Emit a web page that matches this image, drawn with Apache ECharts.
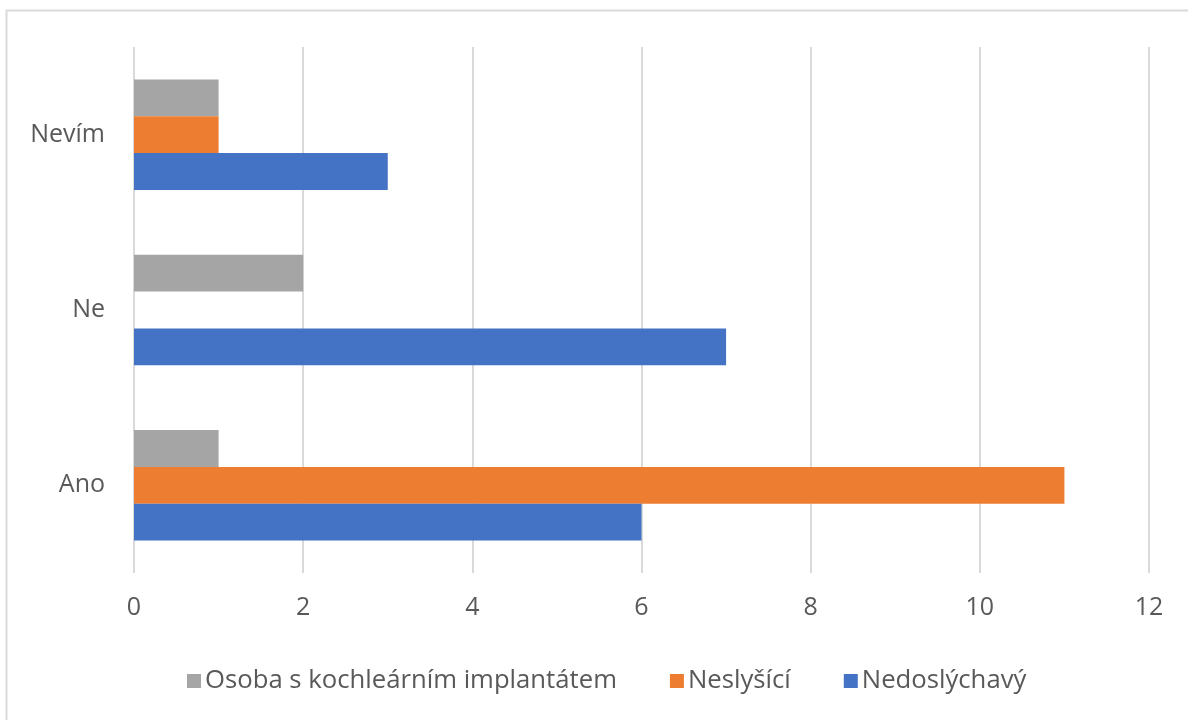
<!DOCTYPE html>
<html>
<head>
<meta charset="utf-8">
<script src="https://cdn.jsdelivr.net/npm/echarts@6/dist/echarts.min.js"></script>
<style>
html, body { margin: 0; padding: 0; background: #fff; }
#chart { width: 1188px; height: 720px; }
</style>
</head>
<body>
<div id="chart"></div>
<script>
var categories = ['Ano', 'Ne', 'Nevím'];
var nedoslychavy = [6, 7, 3];
var neslysici = [11, null, 1];
var implantat = [1, 2, 1];
var legendNames = ['Osoba s kochleárním implantátem', 'Neslyšící', 'Nedoslýchavý'];

var myChart = echarts.init(document.getElementById('chart'));

var font = 'Open Sans';

// ECharts puts the first series at the top of each category band,
// so the grey series goes first here
myChart.setOption({
	animation: false,
	graphic: [{
		type: 'rect',
		shape: { x: 6.5, y: 10.5, width: 1200, height: 720 },
		style: { fill: 'none', stroke: '#d9d9d9', lineWidth: 2 }
	}],
	grid: {
		left: 134,
		right: 39,
		top: 47,
		bottom: 147
	},
	legend: {
		data: legendNames,
		left: 182,
		top: 663,
		itemWidth: 14,
		itemHeight: 14,
		itemGap: 53,
		icon: 'rect',
		textStyle: {
			fontFamily: font,
			fontSize: 25.7,
			color: '#595959',
			padding: [0, 0, 0, -1]
		}
	},
	xAxis: {
		type: 'value',
		min: 0,
		max: 12,
		interval: 2,
		axisLine: { show: false },
		axisTick: { show: false },
		splitLine: { lineStyle: { color: '#d9d9d9', width: 2 } },
		axisLabel: {
			margin: 22,
			fontFamily: font,
			fontSize: 25,
			color: '#595959'
		}
	},
	yAxis: {
		type: 'category',
		data: categories,
		axisLine: { show: false },
		axisTick: { show: false },
		axisLabel: {
			margin: 29,
			fontFamily: font,
			fontSize: 25,
			color: '#595959'
		}
	},
	series: [
		{
			name: 'Osoba s kochleárním implantátem',
			type: 'bar',
			data: implantat,
			itemStyle: { color: '#a5a5a5' },
			barGap: '0%',
			barCategoryGap: '37%'
		},
		{
			name: 'Neslyšící',
			type: 'bar',
			data: neslysici,
			itemStyle: { color: '#ed7d31' }
		},
		{
			name: 'Nedoslýchavý',
			type: 'bar',
			data: nedoslychavy,
			itemStyle: { color: '#4472c4' }
		}
	]
});
</script>
</body>
</html>
